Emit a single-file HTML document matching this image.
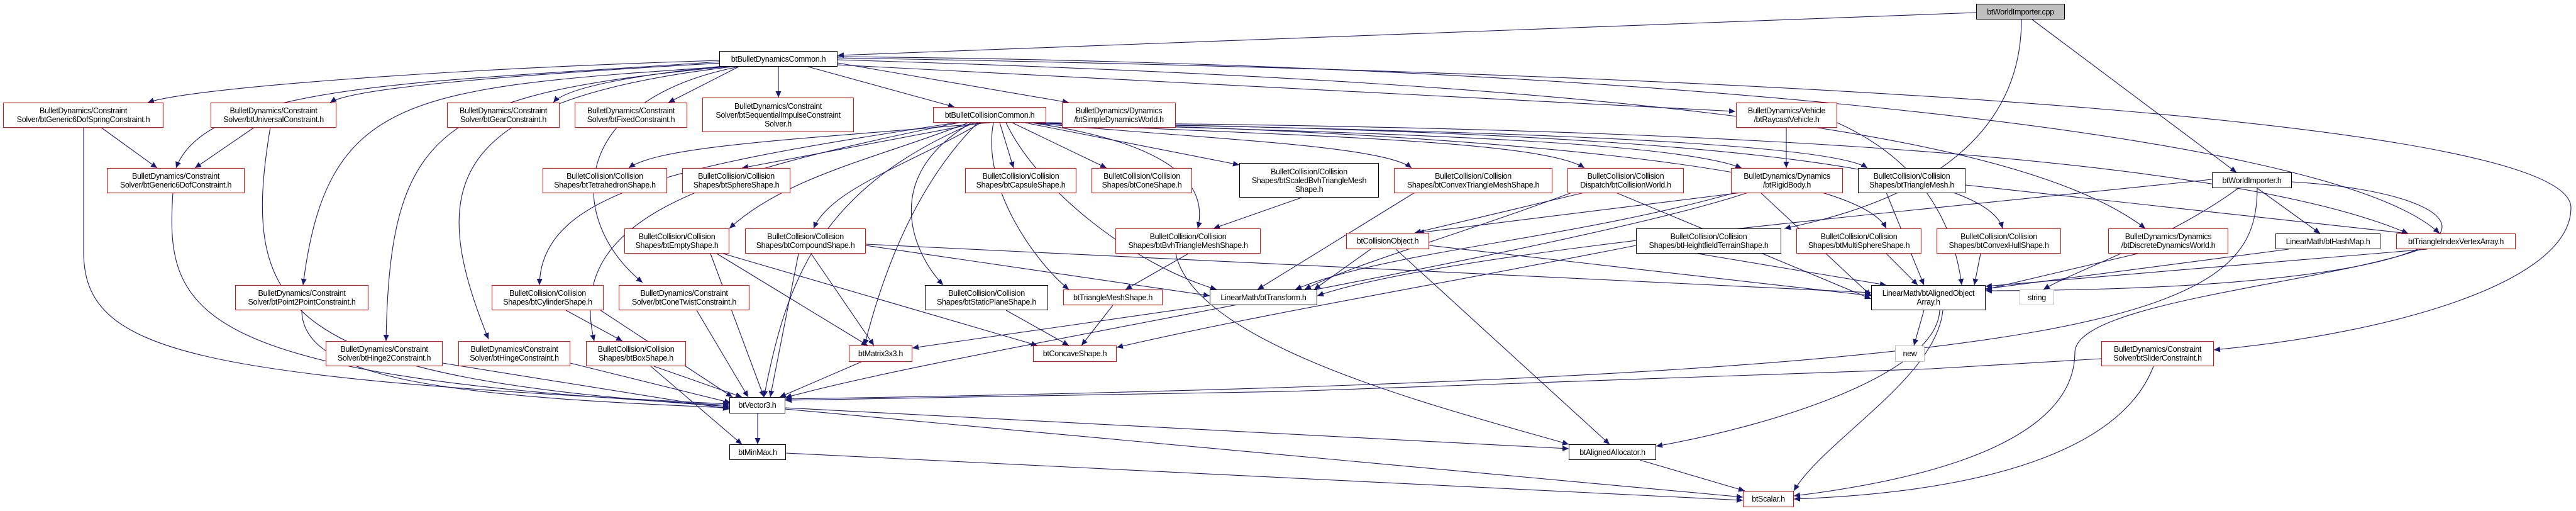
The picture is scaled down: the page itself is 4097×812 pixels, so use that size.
<!DOCTYPE html>
<html><head><meta charset="utf-8"><style>
html,body{margin:0;padding:0;background:#fff;}
#c{position:relative;width:4097px;height:812px;overflow:hidden;font-family:"Liberation Sans",sans-serif;}
svg{position:absolute;left:0;top:0;}
.n{position:absolute;box-sizing:border-box;background:#fff;border:1.5px solid #000;font-size:12.5px;line-height:14px;color:#000;display:flex;align-items:center;justify-content:center;text-align:center;white-space:nowrap;letter-spacing:-0.3px;}
.r{border-color:#ff0000;}
.g{border-color:#bfbfbf;}
.cpp{background:#bfbfbf;}
</style></head><body><div id="c">
<svg width="4097" height="812" viewBox="0 0 4097 812">
<defs><marker id="a" markerUnits="userSpaceOnUse" markerWidth="11" markerHeight="9" refX="10" refY="4.5" orient="auto"><path d="M0,0 L10,4.5 L0,9 z" fill="#191970"/></marker></defs>
<g fill="none" stroke="#191970" stroke-width="1.1" marker-end="url(#a)">
<path d="M3143 20 L1332 88"/>
<path d="M3232 31 L3557 274"/>
<path d="M3215 31 C3215 250 3000 330 2838 363"/>
<path d="M3560 299 C3450 380 3300 430 3250 460"/>
<path d="M1144 96 C700 110 300 140 235 163"/>
<path d="M1144 98 C700 130 330 130 280 267"/>
<path d="M1150 100 C800 120 560 140 525 163"/>
<path d="M1160 104 C1000 120 900 140 880 163"/>
<path d="M1175 106 L1063 163"/>
<path d="M1238 106 L1238 155"/>
<path d="M1285 106 L1518 170"/>
<path d="M1332 100 L1700 163"/>
<path d="M1332 103 L2760 177"/>
<path d="M1332 95 C2500 130 3200 200 3412 363"/>
<path d="M1332 92 C3000 120 4089 200 4089 330 C4089 450 3800 530 3521 556"/>
<path d="M1150 106 C650 140 520 150 482 453"/>
<path d="M1155 106 C700 150 620 200 614 542"/>
<path d="M1165 106 C700 160 680 300 777 539"/>
<path d="M1175 106 C900 160 900 350 1022 449"/>
<path d="M1332 90 C2500 100 3700 200 3880 371"/>
<path d="M160 202 L250 267"/>
<path d="M405 202 L310 267"/>
<path d="M133 202 L133 400 C133 560 300 600 1160 642"/>
<path d="M275 306 C262 500 300 600 1160 644"/>
<path d="M430 202 C380 500 450 600 1160 646"/>
<path d="M480 493 C480 600 700 630 1160 648"/>
<path d="M704 577 L1160 650"/>
<path d="M907 577 L1162 640"/>
<path d="M1108 493 L1190 631"/>
<path d="M900 493 L990 542"/>
<path d="M955 493 L1165 631"/>
<path d="M1040 582 L1180 631"/>
<path d="M1035 582 L1180 706"/>
<path d="M1205 657 L1205 706"/>
<path d="M1249 648 L2495 713"/>
<path d="M1249 650 L2772 790"/>
<path d="M1250 720 L2772 795"/>
<path d="M2608 731 L2775 780"/>
<path d="M3060 493 L3044 549"/>
<path d="M3085 493 C3080 600 2800 680 2634 709"/>
<path d="M3090 493 C3080 600 2900 700 2853 780"/>
<path d="M3342 570 L3072 586 L2048 622 L1249 636"/>
<path d="M3425 582 C3380 700 3200 780 2853 793"/>
<path d="M3850 396 C3700 450 3300 480 3300 560 C3300 720 3000 770 2853 788"/>
<path d="M3860 396 L3158 455"/>
<path d="M3640 396 L3158 459"/>
<path d="M3590 299 C3590 500 3400 600 1249 634"/>
<path d="M3590 299 L3690 371"/>
<path d="M3645 289 C4000 310 4050 460 3158 462"/>
<path d="M3518 285 C3000 340 2300 400 2095 470"/>
<path d="M3126 294 L3830 371"/>
<path d="M3000 306 L3060 453"/>
<path d="M2922 195 C3000 230 3100 300 3120 453"/>
<path d="M2841 202 L2841 267"/>
<path d="M2770 306 L2255 370"/>
<path d="M2760 306 C2500 380 2200 400 2060 460"/>
<path d="M2800 306 L2976 470"/>
<path d="M2780 306 C2500 400 1500 560 1249 632"/>
<path d="M2520 306 L2250 370"/>
<path d="M2570 306 L2976 475"/>
<path d="M2500 306 C2300 380 2150 420 2075 460"/>
<path d="M2180 396 L2090 460"/>
<path d="M2220 396 L2560 706"/>
<path d="M2273 390 L2976 470"/>
<path d="M2700 403 L3000 453"/>
<path d="M3000 403 L3050 453"/>
<path d="M3150 403 L3140 453"/>
<path d="M3400 403 L3158 460"/>
<path d="M2070 314 L1930 363"/>
<path d="M1890 403 L1790 460"/>
<path d="M1870 403 C1900 550 2300 650 2495 706"/>
<path d="M1770 485 L1720 549"/>
<path d="M1600 493 L1700 549"/>
<path d="M1924 485 L1451 553"/>
<path d="M1370 575 L1240 631"/>
<path d="M1140 403 L1380 549"/>
<path d="M1150 403 L1650 549"/>
<path d="M1130 403 L1215 631"/>
<path d="M1290 403 L1390 549"/>
<path d="M1270 403 L1225 631"/>
<path d="M1377 390 L1924 470"/>
<path d="M1377 388 L2976 465"/>
<path d="M2250 306 L2000 460"/>
<path d="M2602 390 C2300 450 2000 500 1776 552"/>
<path d="M1574 195 C1300 220 1050 230 1000 267"/>
<path d="M1560 195 L1180 267"/>
<path d="M1590 195 L1612 267"/>
<path d="M1610 195 L1760 267"/>
<path d="M1630 195 L1971 262"/>
<path d="M1640 195 C1900 220 2200 230 2245 267"/>
<path d="M1645 195 C2000 215 2450 220 2520 267"/>
<path d="M1650 195 C2100 210 2650 220 2770 267"/>
<path d="M1655 195 C2200 205 2900 220 2970 267"/>
<path d="M1540 195 C1400 250 1250 280 1160 363"/>
<path d="M1560 195 C1450 260 1320 300 1294 363"/>
<path d="M1640 195 C1880 230 1920 300 1905 363"/>
<path d="M1545 195 C1400 280 1450 400 1500 453"/>
<path d="M1580 195 C1560 300 1650 420 1700 460"/>
<path d="M1600 195 C1650 300 1800 420 1935 460"/>
<path d="M1555 195 C1450 300 1400 450 1375 549"/>
<path d="M1550 195 C1300 300 1250 450 1215 631"/>
<path d="M1520 195 C1100 260 860 300 858 453"/>
<path d="M1525 195 C1100 280 900 350 945 542"/>
<path d="M1660 195 C2300 210 2950 260 3000 363"/>
<path d="M1660 195 C2300 205 3150 230 3185 363"/>
<path d="M1660 195 C2500 200 3500 230 3830 371"/>
</g></svg>

<div class="n cpp" style="left:3143px;top:6px;width:141px;height:25px;">btWorldImporter.cpp</div>
<div class="n" style="left:1144px;top:81px;width:188px;height:25px;">btBulletDynamicsCommon.h</div>
<div class="n r" style="left:5px;top:163px;width:255px;height:40px;">BulletDynamics/Constraint<br>Solver/btGeneric6DofSpringConstraint.h</div>
<div class="n r" style="left:335px;top:163px;width:200px;height:40px;">BulletDynamics/Constraint<br>Solver/btUniversalConstraint.h</div>
<div class="n r" style="left:711px;top:163px;width:179px;height:40px;">BulletDynamics/Constraint<br>Solver/btGearConstraint.h</div>
<div class="n r" style="left:914px;top:163px;width:179px;height:40px;">BulletDynamics/Constraint<br>Solver/btFixedConstraint.h</div>
<div class="n r" style="left:1117px;top:155px;width:241px;height:55px;">BulletDynamics/Constraint<br>Solver/btSequentialImpulseConstraint<br>Solver.h</div>
<div class="n r" style="left:1484px;top:170px;width:180px;height:25px;">btBulletCollisionCommon.h</div>
<div class="n r" style="left:1689px;top:163px;width:181px;height:40px;">BulletDynamics/Dynamics<br>/btSimpleDynamicsWorld.h</div>
<div class="n r" style="left:2761px;top:163px;width:161px;height:40px;">BulletDynamics/Vehicle<br>/btRaycastVehicle.h</div>
<div class="n r" style="left:170px;top:267px;width:219px;height:40px;">BulletDynamics/Constraint<br>Solver/btGeneric6DofConstraint.h</div>
<div class="n r" style="left:863px;top:267px;width:198px;height:40px;">BulletCollision/Collision<br>Shapes/btTetrahedronShape.h</div>
<div class="n r" style="left:1085px;top:267px;width:172px;height:40px;">BulletCollision/Collision<br>Shapes/btSphereShape.h</div>
<div class="n r" style="left:1535px;top:267px;width:177px;height:40px;">BulletCollision/Collision<br>Shapes/btCapsuleShape.h</div>
<div class="n r" style="left:1736px;top:267px;width:160px;height:40px;">BulletCollision/Collision<br>Shapes/btConeShape.h</div>
<div class="n" style="left:1971px;top:259px;width:222px;height:55px;">BulletCollision/Collision<br>Shapes/btScaledBvhTriangleMesh<br>Shape.h</div>
<div class="n r" style="left:2217px;top:267px;width:252px;height:40px;">BulletCollision/Collision<br>Shapes/btConvexTriangleMeshShape.h</div>
<div class="n r" style="left:2493px;top:267px;width:185px;height:40px;">BulletCollision/Collision<br>Dispatch/btCollisionWorld.h</div>
<div class="n r" style="left:2753px;top:267px;width:178px;height:40px;">BulletDynamics/Dynamics<br>/btRigidBody.h</div>
<div class="n" style="left:2955px;top:267px;width:171px;height:40px;">BulletCollision/Collision<br>Shapes/btTriangleMesh.h</div>
<div class="n" style="left:3518px;top:274px;width:127px;height:25px;">btWorldImporter.h</div>
<div class="n r" style="left:993px;top:363px;width:167px;height:40px;">BulletCollision/Collision<br>Shapes/btEmptyShape.h</div>
<div class="n r" style="left:1185px;top:363px;width:192px;height:40px;">BulletCollision/Collision<br>Shapes/btCompoundShape.h</div>
<div class="n r" style="left:1774px;top:363px;width:231px;height:40px;">BulletCollision/Collision<br>Shapes/btBvhTriangleMeshShape.h</div>
<div class="n r" style="left:2141px;top:370px;width:132px;height:26px;">btCollisionObject.h</div>
<div class="n" style="left:2602px;top:363px;width:231px;height:40px;">BulletCollision/Collision<br>Shapes/btHeightfieldTerrainShape.h</div>
<div class="n r" style="left:2857px;top:363px;width:199px;height:40px;">BulletCollision/Collision<br>Shapes/btMultiSphereShape.h</div>
<div class="n r" style="left:3080px;top:363px;width:198px;height:40px;">BulletCollision/Collision<br>Shapes/btConvexHullShape.h</div>
<div class="n r" style="left:3353px;top:363px;width:191px;height:40px;">BulletDynamics/Dynamics<br>/btDiscreteDynamicsWorld.h</div>
<div class="n" style="left:3619px;top:371px;width:167px;height:25px;">LinearMath/btHashMap.h</div>
<div class="n r" style="left:3811px;top:371px;width:190px;height:25px;">btTriangleIndexVertexArray.h</div>
<div class="n r" style="left:374px;top:453px;width:212px;height:40px;">BulletDynamics/Constraint<br>Solver/btPoint2PointConstraint.h</div>
<div class="n r" style="left:782px;top:453px;width:178px;height:40px;">BulletCollision/Collision<br>Shapes/btCylinderShape.h</div>
<div class="n r" style="left:984px;top:453px;width:208px;height:40px;">BulletDynamics/Constraint<br>Solver/btConeTwistConstraint.h</div>
<div class="n" style="left:1471px;top:453px;width:196px;height:40px;">BulletCollision/Collision<br>Shapes/btStaticPlaneShape.h</div>
<div class="n r" style="left:1691px;top:460px;width:158px;height:25px;">btTriangleMeshShape.h</div>
<div class="n" style="left:1924px;top:460px;width:171px;height:25px;">LinearMath/btTransform.h</div>
<div class="n" style="left:2976px;top:453px;width:182px;height:40px;">LinearMath/btAlignedObject<br>Array.h</div>
<div class="n g" style="left:3212px;top:460px;width:55px;height:25px;">string</div>
<div class="n r" style="left:518px;top:542px;width:186px;height:40px;">BulletDynamics/Constraint<br>Solver/btHinge2Constraint.h</div>
<div class="n r" style="left:729px;top:542px;width:178px;height:40px;">BulletDynamics/Constraint<br>Solver/btHingeConstraint.h</div>
<div class="n r" style="left:932px;top:542px;width:159px;height:40px;">BulletCollision/Collision<br>Shapes/btBoxShape.h</div>
<div class="n r" style="left:3342px;top:542px;width:179px;height:40px;">BulletDynamics/Constraint<br>Solver/btSliderConstraint.h</div>
<div class="n r" style="left:1350px;top:549px;width:101px;height:26px;">btMatrix3x3.h</div>
<div class="n r" style="left:1643px;top:549px;width:133px;height:26px;">btConcaveShape.h</div>
<div class="n g" style="left:3014px;top:549px;width:47px;height:26px;">new</div>
<div class="n" style="left:1160px;top:631px;width:89px;height:26px;">btVector3.h</div>
<div class="n" style="left:1160px;top:706px;width:90px;height:25px;">btMinMax.h</div>
<div class="n" style="left:2495px;top:706px;width:139px;height:25px;">btAlignedAllocator.h</div>
<div class="n r" style="left:2772px;top:780px;width:81px;height:26px;">btScalar.h</div>
</div></body></html>
